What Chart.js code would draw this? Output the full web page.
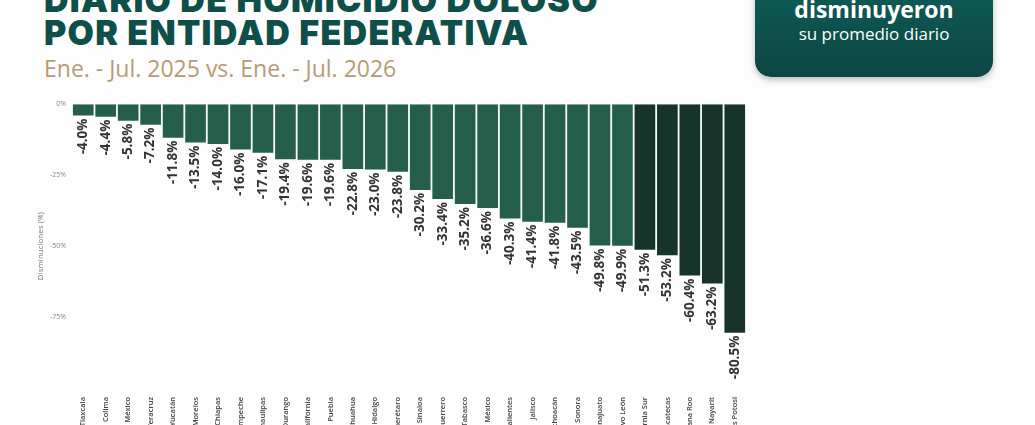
<!DOCTYPE html>
<html>
<head>
<meta charset="utf-8">
<script src="https://cdn.jsdelivr.net/npm/chart.js@4"></script>
<style>
  html, body { margin: 0; padding: 0; }
  body {
    width: 1035px; height: 425px; overflow: hidden; position: relative;
    background: #fdfdfd; font-family: "Open Sans", sans-serif;
  }
  .title {
    position: absolute; left: 44px; margin: 0;
    font-family: Inter, sans-serif; font-weight: 900; color: #0e4f49;
    font-size: 34px; line-height: 34px; white-space: nowrap; letter-spacing: 1.3px;
  }
  .t1 { top: -17px; }
  .t2 { top: 16px; }
  .subtitle {
    position: absolute; left: 44px; top: 52px; margin: 0;
    font-size: 23px; color: #b69b75; white-space: nowrap;
  }
  .badge {
    position: absolute; left: 755px; top: -40px; width: 238px; height: 117px;
    border-radius: 16px; background: linear-gradient(#0f615c, #0c4643);
    box-shadow: 0 3px 6px rgba(0,0,0,0.25); color: #fff; text-align: center;
  }
  .badge .b1 { position: absolute; left: 0; right: 0; top: 33px; font-size: 23px; font-weight: 700; }
  .badge .b2 { position: absolute; left: 0; right: 0; top: 62px; font-size: 17px; }
  .chart-box { position: absolute; left: 0; top: 94px; width: 1035px; height: 384px; }
</style>
</head>
<body>
<div class="title t1">DIARIO DE HOMICIDIO DOLOSO</div>
<div class="title t2">POR ENTIDAD FEDERATIVA</div>
<div class="subtitle">Ene. - Jul. 2025 vs. Ene. - Jul. 2026</div>
<div class="badge"><div class="b1">disminuyeron</div><div class="b2">su promedio diario</div></div>
<div class="chart-box"><canvas id="chart"></canvas></div>
<script>
const states = ['Tlaxcala', 'Colima', 'Estado de México', 'Veracruz', 'Yucatán', 'Morelos',
  'Chiapas', 'Campeche', 'Tamaulipas', 'Durango', 'Baja California', 'Puebla', 'Chihuahua',
  'Hidalgo', 'Querétaro', 'Sinaloa', 'Guerrero', 'Tabasco', 'Ciudad de México',
  'Aguascalientes', 'Jalisco', 'Michoacán', 'Sonora', 'Guanajuato', 'Nuevo León',
  'Baja California Sur', 'Zacatecas', 'Quintana Roo', 'Nayarit', 'San Luis Potosí'];
const changes = [-4.0, -4.4, -5.8, -7.2, -11.8, -13.5, -14.0, -16.0, -17.1, -19.4, -19.6, -19.6,
  -22.8, -23.0, -23.8, -30.2, -33.4, -35.2, -36.6, -40.3, -41.4, -41.8, -43.5, -49.8, -49.9,
  -51.3, -53.2, -60.4, -63.2, -80.5];
const yTicks = [0, -25, -50, -75];

// rotated value labels under each bar
const valueLabels = {
  id: 'valueLabels',
  afterDatasetsDraw(chart) {
    const ctx = chart.ctx;
    const meta = chart.getDatasetMeta(0);
    ctx.save();
    ctx.font = 'bold 13.5px "Open Sans"';
    ctx.fillStyle = '#333';
    ctx.textAlign = 'right';
    ctx.textBaseline = 'middle';
    meta.data.forEach((bar, i) => {
      ctx.save();
      ctx.translate(bar.x, bar.y + 3);
      ctx.rotate(-Math.PI / 2);
      ctx.fillText(changes[i].toFixed(1) + '%', 0, 0);
      ctx.restore();
    });
    ctx.restore();
  }
};

new Chart(document.getElementById('chart'), {
  type: 'bar',
  data: {
    labels: states,
    datasets: [{
      data: changes,
      backgroundColor: changes.map(v => v < -50 ? '#17342b' : '#255e4b'),
      borderWidth: 0,
      barPercentage: 0.92,
      categoryPercentage: 1
    }]
  },
  options: {
    responsive: true,
    maintainAspectRatio: false,
    animation: false,
    layout: { padding: { left: 32, top: 10, right: 289 } },
    plugins: { legend: { display: false }, tooltip: { enabled: false } },
    scales: {
      x: {
        grid: { display: false, drawTicks: false },
        border: { display: false },
        afterFit: s => { s.height = 90; },
        ticks: {
          autoSkip: false, minRotation: 90, maxRotation: 90, padding: 9,
          color: '#444', font: { family: 'Open Sans', size: 7.5, weight: '600' }
        }
      },
      y: {
        min: -100, max: 0,
        grid: { display: false, drawTicks: false },
        border: { display: false },
        afterFit: s => { s.width = 40; },
        afterBuildTicks: s => { s.ticks = yTicks.map(v => ({ value: v })); },
        title: {
          display: true, text: 'Disminuciones (%)', color: '#777',
          font: { family: 'Open Sans', size: 8 }
        },
        ticks: {
          padding: 6, color: '#888',
          font: { family: 'Open Sans', size: 7 },
          callback: v => v + '%'
        }
      }
    }
  },
  plugins: [valueLabels]
});
</script>
</body>
</html>
